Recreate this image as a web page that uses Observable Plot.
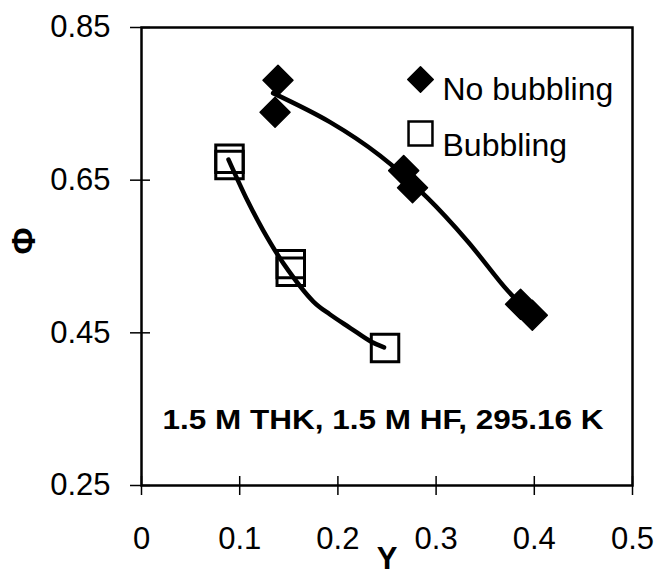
<!DOCTYPE html>
<html><head><meta charset="utf-8">
<script src="https://cdn.jsdelivr.net/npm/d3@7"></script>
<script src="https://cdn.jsdelivr.net/npm/@observablehq/plot@0.6"></script>
<style>body{margin:0;background:#fff}</style>
</head><body><div id="chart"></div>
<script>
// Measured points: No bubbling (filled diamonds)
const noBubX = [0.139, 0.136, 0.267, 0.276, 0.386, 0.398];
const noBubY = [0.781, 0.739, 0.6625, 0.640, 0.4875, 0.473];
// Measured points: Bubbling (open squares)
const bubX = [0.0896, 0.0896, 0.152, 0.152, 0.248];
const bubY = [0.678, 0.670, 0.540, 0.530, 0.430];
// Fitted curves
const noBubFitX = [0.134, 0.192, 0.243, 0.291, 0.332, 0.373, 0.396];
const noBubFitY = [0.764, 0.726, 0.682, 0.627, 0.570, 0.505, 0.476];
const bubFitX = [0.0886, 0.108, 0.124, 0.145, 0.175, 0.192, 0.213, 0.233, 0.247];
const bubFitY = [0.677, 0.623, 0.584, 0.540, 0.491, 0.474, 0.456, 0.439, 0.431];
// Ticks
const xTicks = [0, 0.1, 0.2, 0.3, 0.4, 0.5];
const xTickLabels = ["0", "0.1", "0.2", "0.3", "0.4", "0.5"];
const yTicks = [0.25, 0.45, 0.65, 0.85];
const yTickLabels = ["0.25", "0.45", "0.65", "0.85"];
// Text
const legendLabels = ["No bubbling", "Bubbling"];
const xLabel = "Y";
const yLabel = "Φ";
const annotation = "1.5 M THK, 1.5 M HF, 295.16 K";

const font = "'Liberation Sans', Arial, Helvetica, sans-serif";

const chart = Plot.plot({
  width: 658, height: 582,
  marginLeft: 141, marginRight: 26, marginTop: 27, marginBottom: 97,
  style: {fontFamily: font, background: "white", color: "black", overflow: "visible"},
  x: {domain: [0, 0.5]},
  y: {domain: [0.25, 0.85]},
  marks: [
    Plot.frame({stroke: "black", strokeWidth: 2.5}),
    Plot.axisX(xTicks, {label: null, tickSize: 0, tickPadding: 41, fontSize: 31,
      tickFormat: d => xTickLabels[xTicks.indexOf(d)]}),
    Plot.ruleX(xTicks, {x: d => d, y1: 0.25, y2: 0.25, insetTop: -9, insetBottom: -10, stroke: "black", strokeWidth: 1.5}),
    Plot.axisY(yTicks, {label: null, tickSize: 0, tickPadding: 31, fontSize: 31,
      tickFormat: d => yTickLabels[yTicks.indexOf(d)]}),
    Plot.ruleY(yTicks, {y: d => d, x1: 0, x2: 0, insetLeft: -11, insetRight: -9, stroke: "black", strokeWidth: 1.5}),
    Plot.line(noBubFitX, {x: noBubFitX, y: noBubFitY, curve: "catmull-rom", stroke: "black", strokeWidth: 4.5, strokeLinecap: "round", strokeLinejoin: "round"}),
    Plot.line(bubFitX, {x: bubFitX, y: bubFitY, curve: "catmull-rom", stroke: "black", strokeWidth: 4.5, strokeLinecap: "round", strokeLinejoin: "round"}),
    Plot.dot(noBubX, {x: noBubX, y: noBubY, symbol: "diamond2", r: 13.5, fill: "black", stroke: "black", strokeWidth: 1.5, strokeLinejoin: "round"}),
    Plot.dot(bubX, {x: bubX, y: bubY, symbol: "square", r: 15.5, fill: "none", stroke: "black", strokeWidth: 3}),
    // legend
    Plot.dot([legendLabels[0]], {frameAnchor: "top-left", dx: 279, dy: 52, symbol: "diamond2", r: 11.5, fill: "black", stroke: "black", strokeWidth: 1.5, strokeLinejoin: "round"}),
    Plot.text([legendLabels[0]], {frameAnchor: "top-left", dx: 301, dy: 49.5, text: d => d, textAnchor: "start", fontSize: 32}),
    Plot.dot([legendLabels[1]], {frameAnchor: "top-left", dx: 279, dy: 106, symbol: "square", r: 13.5, fill: "none", stroke: "black", strokeWidth: 2.5}),
    Plot.text([legendLabels[1]], {frameAnchor: "top-left", dx: 301, dy: 105.5, text: d => d, textAnchor: "start", fontSize: 32}),
    // annotation
    Plot.text([annotation], {frameAnchor: "bottom", dx: -4, dy: -57, text: d => d, fontSize: 27, fontWeight: "bold"}),
    // axis titles
    Plot.text([xLabel], {frameAnchor: "bottom", dy: 83, text: d => d, fontSize: 31, fontWeight: "bold"}),
    Plot.text([yLabel], {frameAnchor: "left", dx: -117, dy: -2, text: d => d, fontSize: 33, fontWeight: "bold", rotate: -90})
  ]
});
// widen the bold annotation to the scanned figure's letter width
d3.select(chart).selectAll("text")
  .filter(function () { return this.textContent === annotation; })
  .attr("textLength", 441).attr("lengthAdjust", "spacingAndGlyphs");
document.getElementById("chart").appendChild(chart);
</script>
</body></html>
